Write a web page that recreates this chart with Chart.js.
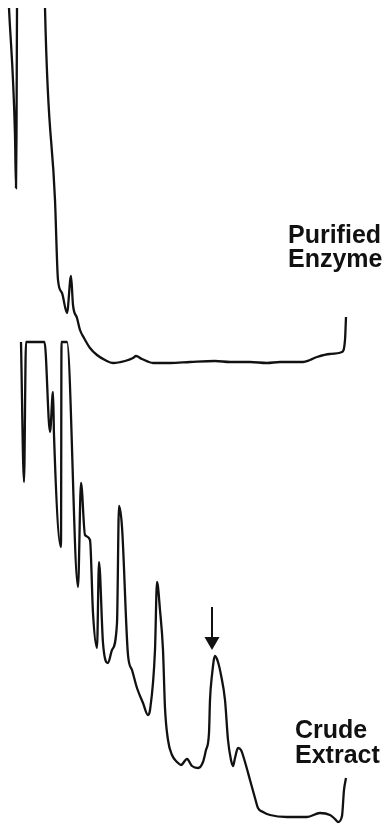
<!DOCTYPE html>
<html>
<head>
<meta charset="utf-8">
<script src="https://cdn.jsdelivr.net/npm/chart.js@4"></script>
<style>
  html, body { margin: 0; padding: 0; background: #fff; }
  #wrap { width: 385px; height: 824px; position: relative; }
</style>
</head>
<body>
<div id="wrap"><canvas id="chart"></canvas></div>
<script>
// Elution position (recorder chart divisions) and detector signal above each trace's baseline.
// Purified enzyme trace
const purifiedTime = [9, 15, 16, 16.5, 17, 17.5, 44, 45, 55, 58, 62, 67, 71, 73, 77, 80, 84, 90, 97, 105, 113, 125, 133, 136, 142, 153, 170, 190, 215, 230, 250, 267, 280, 303, 310, 317, 330, 342, 345, 346];
const purifiedSignal = [355, 228, 175, 228, 355, 420, 420, 355, 163, 83, 70, 50, 87, 58, 45, 33, 25, 15, 8, 3, 0, 2, 5, 7, 4, 0, 0, 1, 2, 1, 1, 0, 1, 1, 3, 6, 9, 11, 23, 46];

// Crude extract trace (flat tops are where the recorder pen saturated)
const crudeTime = [21, 24, 26, 44.5, 50, 53, 54, 61, 61.5, 67, 78, 81, 85, 90, 93, 97, 99, 103, 108, 112, 117, 119, 122, 128, 132, 137, 143, 148, 150, 155, 157, 160, 163, 165, 168, 172, 177, 181, 187, 192, 198, 203, 206, 209, 210, 212, 215, 218, 221, 225, 228, 231, 233, 235, 238, 241, 245, 250, 255, 258, 263, 270, 287, 307, 320, 330, 335, 338, 342, 344, 346];
const crudeSignal = [475, 335, 475, 475, 385, 425, 382, 270, 475, 475, 230, 334, 282, 277, 204, 169, 255, 174, 154, 167, 194, 311, 290, 162, 147, 129, 114, 102, 107, 167, 235, 207, 167, 109, 77, 62, 55, 52, 58, 51, 49, 55, 67, 84, 117, 142, 161, 155, 142, 117, 77, 57, 51, 59, 69, 67, 55, 37, 19, 9, 5, 2, 0, 0, 4, 2, -2, -5, 1, 27, 39];

// Trace names, one line per entry
const purifiedLabel = ['Purified', 'Enzyme'];
const crudeLabel = ['Crude', 'Extract'];

// Peak marked with an arrow on the crude extract trace
const markedPeakTime = 212;
const arrowTopSignal = 210;
const arrowTipSignal = 167;

const toPoints = (xs, ys) => xs.map((x, i) => ({ x, y: ys[i] }));

const annotations = {
  id: 'annotations',
  afterDatasetsDraw(chart, args, opts) {
    const { ctx, scales } = chart;
    const x = scales.x, yP = scales.yPur, yC = scales.yCru;
    ctx.save();
    ctx.fillStyle = '#111';
    ctx.strokeStyle = '#111';
    ctx.font = opts.font;
    ctx.textBaseline = 'alphabetic';
    ctx.textAlign = 'left';
    const drawLines = (lines, tx, baseY, lh) => {
      lines.forEach((t, i) => ctx.fillText(t, tx, baseY + i * lh));
    };
    drawLines(purifiedLabel, x.getPixelForValue(opts.purifiedAt[0]), yP.getPixelForValue(opts.purifiedAt[1]), opts.lineHeight);
    drawLines(crudeLabel, x.getPixelForValue(opts.crudeAt[0]), yC.getPixelForValue(opts.crudeAt[1]), opts.lineHeight + 1);

    // arrow over the marked peak
    const ax = x.getPixelForValue(markedPeakTime);
    const top = yC.getPixelForValue(arrowTopSignal);
    const tip = yC.getPixelForValue(arrowTipSignal);
    const head = opts.arrowHead;
    ctx.lineWidth = 2;
    ctx.beginPath();
    ctx.moveTo(ax, top);
    ctx.lineTo(ax, tip - head);
    ctx.stroke();
    ctx.beginPath();
    ctx.moveTo(ax - head * 0.58, tip - head);
    ctx.lineTo(ax + head * 0.58, tip - head);
    ctx.lineTo(ax, tip);
    ctx.closePath();
    ctx.fill();
    ctx.restore();
  }
};

const traceStyle = {
  borderColor: '#111',
  borderWidth: 2.3,
  pointRadius: 0,
  cubicInterpolationMode: 'monotone',
  fill: false
};

new Chart(document.getElementById('chart'), {
  type: 'line',
  data: {
    datasets: [
      Object.assign({
        label: purifiedLabel.join(' '),
        data: toPoints(purifiedTime, purifiedSignal),
        yAxisID: 'yPur'
      }, traceStyle),
      Object.assign({
        label: crudeLabel.join(' '),
        data: toPoints(crudeTime, crudeSignal),
        yAxisID: 'yCru'
      }, traceStyle)
    ]
  },
  options: {
    responsive: true,
    maintainAspectRatio: false,
    animation: false,
    layout: { padding: { top: 8, left: 0, right: 0, bottom: 0 } },
    scales: {
      x: { type: 'linear', min: 0, max: 385, display: false },
      yPur: { type: 'linear', min: -461, max: 355, display: false },
      yCru: { type: 'linear', min: -7, max: 809, display: false }
    },
    plugins: {
      legend: { display: false },
      tooltip: { enabled: false },
      annotations: {
        font: 'bold 25px "Liberation Sans", Arial, sans-serif',
        lineHeight: 24,
        purifiedAt: [288, 120],
        crudeAt: [295, 79],
        arrowHead: 13
      }
    }
  },
  plugins: [annotations]
});
</script>
</body>
</html>
